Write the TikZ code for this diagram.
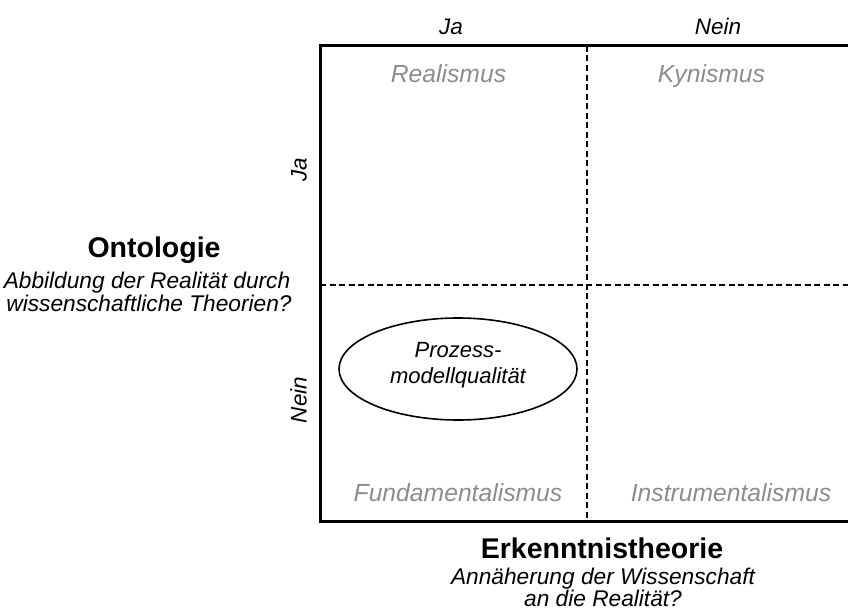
\documentclass[tikz,border=0pt]{standalone}
\usepackage{fontspec}
\setmainfont{Liberation Sans}
\usetikzlibrary{shapes.geometric}
\definecolor{lblgray}{HTML}{8C8C8C}
\tikzset{
  frame/.style={line width=3pt},
  divider/.style={line width=1.8pt, dash pattern=on 6pt off 3.5pt},
  capc/.style={inner sep=0pt, text depth=0pt},
  head/.style={capc, text height=20.4pt, font=\fontsize{28.5}{30}\selectfont\bfseries},
  sub/.style={capc, text height=16.25pt, font=\fontsize{22.7}{25}\selectfont\itshape},
  axis/.style={capc, text height=16.1pt, font=\fontsize{22.5}{25}\selectfont\itshape},
  school/.style={capc, text height=17.7pt, font=\fontsize{24.7}{27}\selectfont\itshape, text=lblgray},
  inoval/.style={capc, text height=15.75pt, font=\fontsize{22}{25}\selectfont\itshape},
  oval/.style={ellipse, draw, line width=1.6pt, minimum width=238pt, minimum height=102pt, inner sep=0pt}
}
\begin{document}
\begin{tikzpicture}[x=1pt,y=-1pt]
\useasboundingbox (0,0) rectangle (848,610);
% frame and dividers
\coordinate (tl) at (320,46);
\coordinate (br) at (852,521);
\coordinate (vt) at (587,46);
\coordinate (vb) at (587,521);
\coordinate (hl) at (320,285);
\coordinate (hr) at (852,285);
\draw[divider] (vt) -- (vb);
\draw[divider] (hl) -- (hr);
\draw[frame] (tl) rectangle (br);
% column headers
\node[axis] (colja) at (451,26) {Ja};
\node[axis] (colnein) at (718,26) {Nein};
% row headers
\node[axis, rotate=90] (rowja) at (298.5,170) {Ja};
\node[axis, rotate=90] (rownein) at (298.5,400) {Nein};
% schools
\node[school] (real) at (448.5,73.5) {Realismus};
\node[school] (kyn) at (711.5,73.5) {Kynismus};
\node[school] (fund) at (458,492.5) {Fundamentalismus};
\node[school] (instr) at (731,492.5) {Instrumentalismus};
% ellipse
\node[oval] (pmq) at (458,369) {};
\node[inoval] (pmq1) at (pmq.center) [yshift=19pt] {Prozess-};
\node[inoval] (pmq2) at (pmq.center) [yshift=-7pt] {modellqualität};
% axis titles
\node[head] (onto) at (154,247) {Ontologie};
\node[sub] (ontosub1) at (147,280) {Abbildung der Realität durch};
\node[sub] (ontosub2) at (149,303) {wissenschaftliche Theorien?};
\node[head] (erk) at (602,548) {Erkenntnistheorie};
\node[sub] (erksub1) at (603,576.5) {Annäherung der Wissenschaft};
\node[sub] (erksub2) at (603,598) {an die Realität?};
\end{tikzpicture}
\end{document}
